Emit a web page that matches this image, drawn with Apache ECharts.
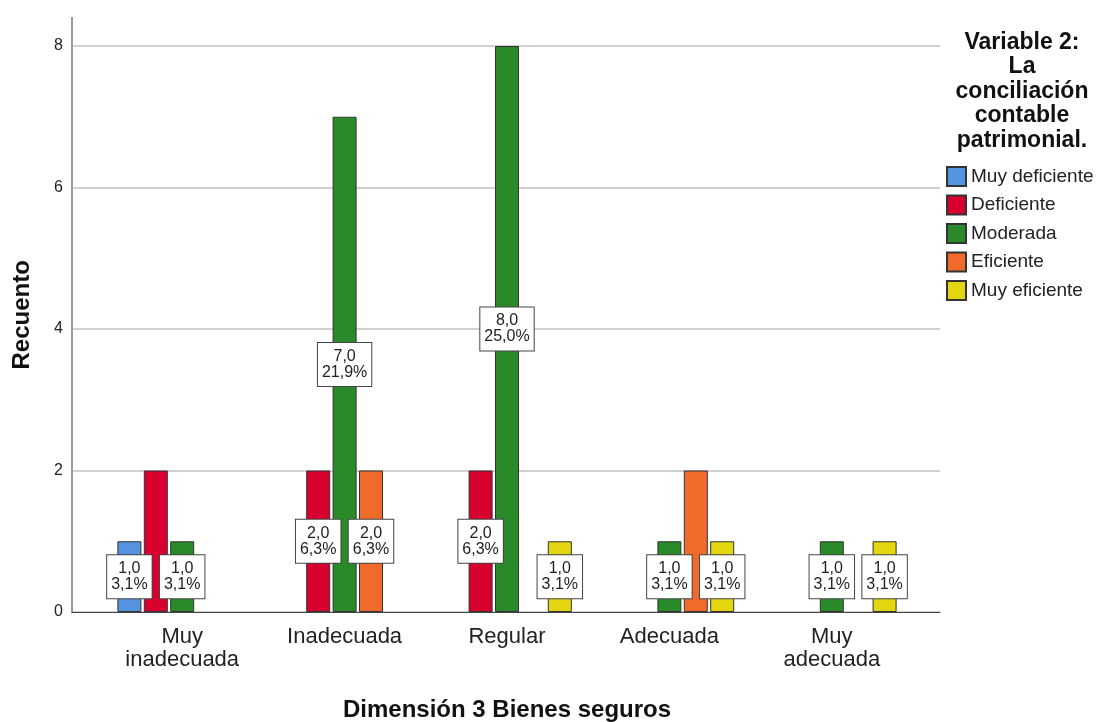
<!DOCTYPE html>
<html>
<head>
<meta charset="utf-8">
<script src="https://cdn.jsdelivr.net/npm/echarts@6/dist/echarts.min.js"></script>
<style>html,body{margin:0;padding:0;background:#fff;}#c{width:1097px;height:722px;}</style>
</head>
<body>
<div id="c"></div>
<script>
const categories = ['Muy\ninadecuada', 'Inadecuada', 'Regular', 'Adecuada', 'Muy\nadecuada'];
const seriesNames = ['Muy deficiente', 'Deficiente', 'Moderada', 'Eficiente', 'Muy eficiente'];
const muyDeficiente = [1, null, null, null, null];
const deficiente = [2, 2, 2, null, null];
const moderada = [1, 7, 8, 1, 1];
const eficiente = [null, 2, null, 2, null];
const muyEficiente = [null, null, 1, 1, 1];
const yTicks = [0, 2, 4, 6, 8];
// labels hidden in the reference: [seriesIndex, categoryIndex]
const hiddenLabels = [[1, 0], [3, 3]];

const colors = ['#5593e0', '#d7002f', '#2a8a2a', '#f26a2a', '#e3d50f'];
const allData = [muyDeficiente, deficiente, moderada, eficiente, muyEficiente];
const total = allData.reduce((s, arr) => s + arr.reduce((a, v) => a + (v || 0), 0), 0);

function fmt(v) {
  return v.toFixed(1).replace('.', ',') + '\n' + (v / total * 100).toFixed(1).replace('.', ',') + '%';
}

const font = 'Liberation Sans, Arial, sans-serif';

const series = allData.map((arr, si) => ({
  name: seriesNames[si],
  type: 'bar',
  xAxisIndex: 1,
  yAxisIndex: 1,
  barWidth: 24,
  barGap: '10%',
  itemStyle: { color: colors[si], borderColor: '#333', borderWidth: 1 },
  data: arr.map((v, ci) => {
    if (v == null) return null;
    const hide = hiddenLabels.some(h => h[0] === si && h[1] === ci);
    return { value: v, label: { show: !hide } };
  }),
  label: {
    show: true,
    position: 'inside',
    formatter: p => fmt(p.value),
    backgroundColor: '#fff',
    borderColor: '#444',
    borderWidth: 1,
    padding: [6, 4, 5, 4],
    fontFamily: font,
    fontSize: 16,
    lineHeight: 16,
    color: '#222'
  }
}));

const chart = echarts.init(document.getElementById('c'));
chart.setOption({
  animation: false,
  backgroundColor: '#fff',
  textStyle: { fontFamily: font },
  grid: [
    { left: 72, right: 157, top: 17.7, bottom: 110, outerBoundsMode: 'none', containLabel: false },
    { left: 101, right: 184, top: 17.7, bottom: 110, outerBoundsMode: 'none', containLabel: false },
    { left: 72, right: 157, top: 46, bottom: 110, outerBoundsMode: 'none', containLabel: false }
  ],
  xAxis: [
    {
      gridIndex: 0, type: 'value', min: 0, max: 1,
      axisLine: { show: true, lineStyle: { color: '#444', width: 1 } },
      axisTick: { show: false }, axisLabel: { show: false }, splitLine: { show: false }
    },
    {
      gridIndex: 1, type: 'category', data: categories,
      axisLine: { show: false }, axisTick: { show: false },
      axisLabel: { fontFamily: font, fontSize: 22, color: '#222', lineHeight: 23, margin: 13 },
      name: 'Dimensión 3 Bienes seguros', nameLocation: 'middle', nameGap: 86,
      nameTextStyle: { fontFamily: font, fontSize: 24, fontWeight: 'bold', color: '#111' }
    },
    {
      gridIndex: 2, type: 'value', min: 0, max: 1, show: false
    }
  ],
  yAxis: [
    {
      gridIndex: 0, type: 'value', min: 0, max: 8.4, interval: 2,
      axisLine: { show: true, lineStyle: { color: '#999', width: 2 } },
      axisTick: { show: false },
      axisLabel: {
        fontFamily: font, fontSize: 16, color: '#222', margin: 9,
        formatter: v => (yTicks.indexOf(v) >= 0 ? String(v) : '')
      },
      splitLine: { show: false },
      name: 'Recuento', nameLocation: 'middle', nameGap: 38,
      nameTextStyle: { fontFamily: font, fontSize: 24, fontWeight: 'bold', color: '#111' }
    },
    {
      gridIndex: 1, type: 'value', min: 0, max: 8.4, show: false, splitLine: { show: false }
    },
    {
      gridIndex: 2, type: 'value', min: 0, max: 8, interval: 2,
      axisLine: { show: false }, axisTick: { show: false }, axisLabel: { show: false },
      splitLine: { show: true, lineStyle: { color: '#d0d0d0', width: 2 } }
    }
  ],
  legend: {
    orient: 'vertical', left: 946, top: 166, padding: 0,
    itemWidth: 19, itemHeight: 19, itemGap: 7.5,
    icon: 'rect',
    data: seriesNames,
    textStyle: { fontFamily: font, fontSize: 19, color: '#222' }
  },
  graphic: [{
    type: 'text', x: 1022, y: 30,
    style: {
      text: 'Variable 2:\nLa\nconciliación\ncontable\npatrimonial.',
      font: 'bold 23px ' + font,
      fill: '#111',
      align: 'center',
      textAlign: 'center',
      lineHeight: 24.5
    }
  }],
  series: series
});
</script>
</body>
</html>
